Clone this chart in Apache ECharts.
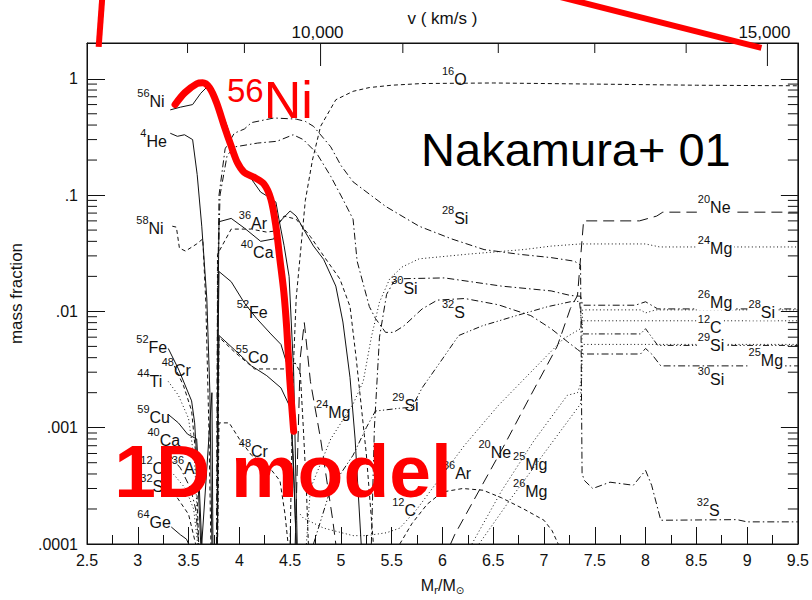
<!DOCTYPE html>
<html>
<head>
<meta charset="utf-8">
<script src="https://cdn.jsdelivr.net/npm/echarts@6/dist/echarts.min.js"></script>
<style>
  html, body { margin: 0; padding: 0; background: #fff; }
  #chart { width: 812px; height: 600px; }
</style>
</head>
<body>
<div id="chart"></div>
<script>
// ---- abundance profiles: [enclosed mass (Msun), mass fraction] ----
const ni56 = [[3.32,0.54],[3.42,0.57],[3.54,0.6],[3.62,0.75],[3.71,0.9],[3.76,0.76],[3.82,0.54],[3.88,0.39],[3.92,0.3],[3.98,0.2],[4.05,0.16],[4.12,0.137],[4.21,0.106],[4.3,0.095],[4.36,0.087],[4.39,0.062],[4.44,0.037],[4.49,0.02],[4.535,0.003],[4.565,0.00016],[4.57,0.0001]];
const he4 = [[3.32,0.34],[3.39,0.32],[3.46,0.33],[3.54,0.3],[3.585,0.15],[3.63,0.054],[3.68,0.0128],[3.71,0.002],[3.73,0.0001]];
const ni58 = [[3.34,0.054],[3.38,0.053],[3.41,0.035],[3.47,0.033],[3.58,0.038],[3.64,0.042],[3.67,0.012],[3.7,0.001],[3.72,0.0001]];
const fe52Inner = [[3.3,0.0048],[3.4,0.0032],[3.53,0.0017],[3.56,0.0011],[3.59,0.0004],[3.62,0.0001]];
const cr48Inner = [[3.36,0.0034],[3.45,0.0023],[3.53,0.0014],[3.57,0.0006],[3.6,0.0001]];
const ti44 = [[3.3,0.0025],[3.4,0.0019],[3.5,0.0012],[3.56,0.0005],[3.6,0.0001]];
const cu59 = [[3.3,0.0013],[3.4,0.0011],[3.49,0.00088],[3.58,0.0008],[3.6,0.0004],[3.63,0.0001]];
const ca40Inner = [[3.3,0.0006],[3.42,0.00045],[3.52,0.0003],[3.57,0.0002],[3.6,0.0001]];
const c12Inner = [[3.35,0.0004],[3.47,0.0003],[3.55,0.0002],[3.59,0.0001]];
const s32Inner = [[3.35,0.00028],[3.5,0.00018],[3.57,0.0001]];
const ge64 = [[3.33,0.00014],[3.42,0.00012],[3.48,0.00011],[3.5,0.0001]];
const ar36Inner = [[3.63,0.0001],[3.73,0.002],[3.74,0.0001]];

const ar36 = [[3.785,0.0001],[3.79,0.01],[3.8,0.059],[3.92,0.063],[4.05,0.052],[4.21,0.04],[4.34,0.042],[4.39,0.058],[4.5,0.073],[4.56,0.066],[4.65,0.048],[4.73,0.0365],[4.83,0.028],[4.95,0.0165],[5.02,0.0081],[5.09,0.0027],[5.14,0.0008],[5.2,0.0001]];
const ca40 = [[3.78,0.0001],[3.785,0.031],[3.92,0.051],[4.12,0.051],[4.27,0.048],[4.34,0.049],[4.44,0.066],[4.56,0.062],[4.7,0.044],[4.83,0.03],[4.99,0.019],[5.09,0.011],[5.15,0.004],[5.25,0.0006],[5.32,0.0001]];
const fe52 = [[3.785,0.0001],[3.79,0.005],[3.8,0.022],[3.92,0.018],[4.05,0.0118],[4.17,0.0087],[4.31,0.0064],[4.41,0.0052],[4.47,0.0035],[4.51,0.0012],[4.54,0.0003],[4.56,0.0001]];
const co55 = [[3.785,0.0001],[3.79,0.002],[3.8,0.0062],[3.95,0.0047],[4.12,0.0034],[4.27,0.0028],[4.41,0.0022],[4.5,0.0015],[4.53,0.0006],[4.56,0.0001]];
const ni57 = [[3.785,0.0001],[3.8,0.006],[3.95,0.0045],[4.15,0.0032],[4.44,0.0032],[4.55,0.0036],[4.6,0.003],[4.63,0.001],[4.66,0.0003],[4.68,0.0001]];
const cr48 = [[3.785,0.0001],[3.8,0.0011],[3.9,0.0011],[4.0,0.0008],[4.12,0.00058],[4.3,0.00045],[4.4,0.00035],[4.45,0.00018],[4.48,0.0001]];
const si28 = [[3.775,0.0001],[3.785,0.01],[3.8,0.1],[3.86,0.25],[3.95,0.34],[4.05,0.37],[4.12,0.42],[4.34,0.46],[4.56,0.45],[4.65,0.43],[4.73,0.39],[4.9,0.26],[5.0,0.18],[5.12,0.13],[5.44,0.08],[5.77,0.054],[6.09,0.042],[6.41,0.034],[6.75,0.031],[7.07,0.029],[7.3,0.027],[7.36,0.025],[7.375,0.0004],[7.4,0.00035],[7.48,0.0003],[7.65,0.00034],[7.88,0.00032],[8.0,0.00043],[8.06,0.00032],[8.15,0.00016],[8.9,0.000162],[9.0,0.000155],[9.5,0.000155]];
const s32 = [[3.78,0.0001],[3.79,0.02],[3.81,0.1],[3.88,0.22],[3.96,0.26],[4.18,0.28],[4.37,0.29],[4.53,0.33],[4.63,0.3],[4.76,0.23],[4.9,0.145],[5.02,0.092],[5.12,0.062],[5.16,0.027],[5.28,0.011],[5.34,0.0087],[5.44,0.0066],[5.52,0.0066],[5.62,0.0075],[5.8,0.0105],[5.95,0.0125],[6.22,0.0129],[6.55,0.0114],[6.87,0.0092],[7.07,0.0071],[7.23,0.0055],[7.33,0.0047],[7.39,0.0043],[7.95,0.0043],[8.0,0.0048],[8.06,0.0043],[8.15,0.0034],[9.5,0.0034]];
const si30 = [[5.3,0.0001],[5.33,0.001],[5.38,0.006],[5.45,0.014],[5.52,0.018],[5.61,0.0191],[6.02,0.0194],[6.58,0.0165],[7.07,0.015],[7.26,0.0137],[7.36,0.0135],[7.38,0.0113],[7.9,0.0113],[8.0,0.0121],[8.12,0.0105],[9.5,0.0105]];
const si29 = [[4.73,0.0001],[4.9,0.0003],[5.12,0.00058],[5.25,0.001],[5.34,0.00139],[5.58,0.00147],[5.7,0.0015],[5.8,0.0022],[6.0,0.0039],[6.16,0.0062],[6.39,0.0075],[6.71,0.0091],[7.04,0.011],[7.26,0.0121],[7.35,0.0122],[7.38,0.0064],[7.95,0.0064],[8.0,0.0071],[8.12,0.0051],[9.5,0.0051]];
const o16 = [[4.5,0.0001],[4.53,0.003],[4.56,0.013],[4.65,0.09],[4.72,0.2],[4.8,0.39],[4.95,0.66],[5.12,0.78],[5.28,0.84],[5.5,0.88],[5.8,0.91],[6.5,0.92],[7.5,0.9],[8.5,0.88],[9.5,0.87]];
const ne20 = [[6.08,0.0001],[6.12,0.00012],[6.61,0.00071],[6.87,0.0019],[7.13,0.005],[7.26,0.0106],[7.33,0.0137],[7.39,0.06],[7.94,0.06],[8.11,0.066],[8.17,0.0713],[9.5,0.0713]];
const ne20Inner = [[4.55,0.0001],[4.6,0.004],[4.64,0.008],[4.7,0.0025],[4.8,0.0008],[4.92,0.00016],[4.95,0.0001]];
const mg24 = [[4.66,0.0001],[4.7,0.0003],[4.9,0.0008],[5.12,0.0016],[5.22,0.0025],[5.3,0.006],[5.38,0.012],[5.48,0.019],[5.6,0.024],[5.77,0.0283],[6.26,0.0311],[6.8,0.034],[7.07,0.0364],[7.36,0.038],[8.0,0.038],[8.14,0.0358],[9.5,0.0358]];
const c12 = [[4.6,0.00018],[4.63,0.000167],[4.83,0.000137],[5.12,0.000118],[5.25,0.000118],[5.45,0.000125],[5.58,0.000137],[5.75,0.0002],[5.9,0.0003],[6.22,0.00071],[6.55,0.00155],[6.87,0.003],[7.19,0.0058],[7.36,0.0071],[7.38,0.0083],[9.5,0.0083]];
const ar36Outer = [[5.58,0.0001],[5.7,0.00015],[5.85,0.00022],[6.0,0.00028],[6.2,0.0003],[6.4,0.00029],[6.58,0.00025],[6.8,0.0002],[7.0,0.00016],[7.08,0.00013],[7.14,0.0001]];
const mg25 = [[6.29,0.0001],[6.58,0.000284],[6.9,0.00077],[7.23,0.0019],[7.33,0.002],[7.37,0.0025],[7.38,0.0052],[9.5,0.0052]];
const mg26 = [[6.36,0.0001],[6.68,0.00025],[7.0,0.0006],[7.36,0.0016],[7.38,0.0103],[7.95,0.0103],[8.0,0.0097],[8.1,0.0103],[9.5,0.0103]];

// 1D model 56Ni profile
const model56Ni = [[3.367,0.6],[3.464,0.76],[3.581,0.906],[3.639,0.924],[3.707,0.837],[3.776,0.623],[3.853,0.388],[3.921,0.262],[3.98,0.191],[4.048,0.157],[4.146,0.142],[4.243,0.124],[4.311,0.092],[4.36,0.054],[4.399,0.0282],[4.438,0.0147],[4.467,0.0071],[4.496,0.00265],[4.535,0.00093]];
// connector lines leaving the frame
const connectorLeft = [[2.615,1.88],[2.652,5.24]];
const connectorRight = [[7.086,5.24],[9.141,1.843]];

// isotope labels: [mass number, element, mass, fraction]
const isotopeLabels = [
  ['56','Ni',3.0,0.64],['4','He',3.03,0.29],['58','Ni',2.99,0.052],['52','Fe',2.99,0.0049],
  ['48','Cr',3.24,0.0031],['44','Ti',3.0,0.0025],['59','Cu',3.0,0.00122],['40','Ca',3.1,0.00078],
  ['12','C',3.03,0.00045],['36','Ar',3.34,0.00045],['32','S',3.03,0.00031],['64','Ge',3.0,0.000152],
  ['36','Ar',4.0,0.0565],['40','Ca',4.02,0.0318],['52','Fe',3.98,0.0098],['55','Co',3.97,0.004],
  ['48','Cr',4.0,0.00062],['24','Mg',4.76,0.00135],['16','O',6.0,0.99],['28','Si',6.0,0.063],
  ['30','Si',5.5,0.0158],['32','S',6.0,0.0098],['29','Si',5.51,0.00155],['20','Ne',6.36,0.00061],
  ['25','Mg',6.7,0.00048],['36','Ar',6.01,0.0004],['26','Mg',6.7,0.00028],['12','C',5.51,0.000194],
  ['20','Ne',8.51,0.0776],['24','Mg',8.51,0.0347],['26','Mg',8.51,0.0119],['28','Si',9.01,0.0098],
  ['12','C',8.51,0.0072],['29','Si',8.51,0.0051],['25','Mg',9.01,0.0038],['30','Si',8.51,0.0026],
  ['32','S',8.5,0.000194]
];

// axis tick labels
const massTickLabels = ['2.5','3','3.5','4','4.5','5','5.5','6','6.5','7','7.5','8','8.5','9','9.5'];
const fractionTickLabels = ['.0001','.001','.01','.1','1'];
const velocityTicks = [8000,9000,10000,11000,12000,13000,14000,15000];
const velocityTickMass = [3.49,4.05,4.80,5.61,6.55,7.50,8.40,9.20];
const velocityTickLabels = {10000:'10,000', 15000:'15,000'};

// ---- chart ----
const X_MIN = 2.5, X_MAX = 9.5, Y_MIN = 0.0001, Y_MAX = 2.03;
const OUTER_ZONE = 8.4;   // labels beyond this mass sit on the flat outer profiles
const FONT = '"Liberation Sans", Arial, Helvetica, sans-serif';
const INK = '#111';
const RED = '#ff0000';
const DASH = {
  solid: 'solid',
  dashed: [4, 3],
  longDash: [11, 6],
  dotted: [1, 2.6],
  dashDot: [7, 3, 1.5, 3],
  dashDotDot: [6, 2.5, 1.2, 2.5, 1.2, 2.5]
};

const profiles = [
  [ni56,'solid'],[he4,'solid'],[ni58,'dashed'],[fe52Inner,'solid'],[cr48Inner,'dashed'],[ti44,'dotted'],
  [cu59,'solid'],[ca40Inner,'dashDot'],[c12Inner,'dotted'],[s32Inner,'dashed'],[ge64,'solid'],[ar36Inner,'solid'],
  [ar36,'solid'],[ca40,'dashed'],[fe52,'solid'],[co55,'solid'],[ni57,'dashed'],[cr48,'dashed'],
  [si28,'dashDot'],[s32,'dashDot'],[si30,'dashDot'],[si29,'dashDotDot'],[o16,'dashed'],[ne20,'longDash'],
  [ne20Inner,'longDash'],[mg24,'dotted'],[c12,'dotted'],[ar36Outer,'dashed'],[mg25,'dotted'],[mg26,'dotted']
];

const series = profiles.map(([data, style]) => ({
  type: 'line', data, symbol: 'none', silent: true, clip: true, z: 2,
  lineStyle: { color: INK, width: 1, type: DASH[style] }
}));

// minor ticks on both vertical frame edges (2..9 per decade)
const minorFractions = [];
for (let e = -4; e <= -1; e++) for (let k = 2; k <= 9; k++) minorFractions.push(k * Math.pow(10, e));
series.push({
  type: 'custom', silent: true, z: 3,
  data: minorFractions.map(v => [X_MIN, v]),
  renderItem: (params, api) => {
    const pl = api.coord([X_MIN, api.value(1)]);
    const pr = api.coord([X_MAX, api.value(1)]);
    return { type: 'group', children: [
      { type: 'line', shape: { x1: pl[0], y1: pl[1], x2: pl[0] + 10, y2: pl[1] }, style: { stroke: INK, lineWidth: 1 } },
      { type: 'line', shape: { x1: pr[0] - 10, y1: pr[1], x2: pr[0], y2: pr[1] }, style: { stroke: INK, lineWidth: 1 } }
    ]};
  }
});

// velocity scale along the top edge
series.push({
  type: 'custom', silent: true, z: 3,
  data: velocityTickMass.map((m, i) => [m, Y_MAX, velocityTicks[i]]),
  renderItem: (params, api) => {
    const p = api.coord([api.value(0), Y_MAX]);
    const v = api.value(2);
    const label = velocityTickLabels[v];
    const children = [{ type: 'line', shape: { x1: p[0], y1: p[1], x2: p[0], y2: p[1] + (label ? 23 : 10) }, style: { stroke: INK, lineWidth: 1 } }];
    if (label) children.push({ type: 'text', style: { text: label, x: p[0] - 3, y: p[1] - 11, align: 'center', verticalAlign: 'middle', font: '17px ' + FONT, fill: INK } });
    return { type: 'group', children };
  }
});

// isotope names (those on the flat outer profiles blank out the line beneath them)
series.push({
  type: 'scatter', silent: true, z: 4, symbolSize: 1, itemStyle: { color: 'rgba(0,0,0,0)', opacity: 1 },
  data: isotopeLabels.map(d => {
    const item = { value: [d[2], d[3]], A: d[0], el: d[1] };
    if (d[2] > OUTER_ZONE) item.label = { backgroundColor: '#fff', padding: [0, 2, 0, 1] };
    return item;
  }),
  label: {
    show: true, position: [0, 0], align: 'left', verticalAlign: 'middle', color: INK, opacity: 1,
    formatter: p => '{s|' + p.data.A + '}{e|' + p.data.el + '}',
    rich: {
      s: { fontFamily: FONT, fontSize: 11, lineHeight: 11, padding: [0, 0, 11, 0], verticalAlign: 'bottom', color: INK },
      e: { fontFamily: FONT, fontSize: 16, lineHeight: 17, verticalAlign: 'bottom', color: INK }
    }
  }
});

// 1D model curve and annotations
series.push({
  type: 'line', data: model56Ni, symbol: 'none', smooth: 0.3, silent: true, z: 10, clip: false,
  lineStyle: { color: RED, width: 7, cap: 'round', join: 'round' }
});
[connectorLeft, connectorRight].forEach(d => series.push({
  type: 'line', data: d, symbol: 'none', silent: true, z: 10, clip: false,
  lineStyle: { color: RED, width: 6, cap: 'butt' }
}));
series.push({
  type: 'scatter', silent: true, z: 11, symbolSize: 1, itemStyle: { color: 'rgba(0,0,0,0)', opacity: 1 },
  data: [
    { value: [3.883, 0.648], kind: 'ni' },
    { value: [5.795, 0.244], kind: 'ref' },
    { value: [2.773, 0.000423], kind: 'model' }
  ],
  label: {
    show: true, position: [0, 0], align: 'left', verticalAlign: 'middle', color: RED, opacity: 1,
    formatter: p => p.data.kind === 'ni' ? '{rs|56}{re|Ni}' : (p.data.kind === 'ref' ? '{ref|Nakamura+ 01}' : '{model|1D model}'),
    rich: {
      rs: { fontFamily: FONT, fontSize: 33, lineHeight: 33, padding: [0, 0, 19, 0], verticalAlign: 'bottom', color: RED },
      re: { fontFamily: FONT, fontSize: 52, lineHeight: 52, verticalAlign: 'bottom', color: RED },
      ref: { fontFamily: FONT, fontSize: 47, lineHeight: 50, color: '#000' },
      model: { fontFamily: FONT, fontSize: 75, lineHeight: 78, fontWeight: 'bold', color: RED }
    }
  }
});

const fractionLabel = v => {
  const e = Math.log10(v), r = Math.round(e);
  if (Math.abs(e - r) > 1e-6 || r < -4 || r > 0) return '';
  return fractionTickLabels[r + 4];
};

const chart = echarts.init(document.getElementById('chart'), null, { renderer: 'svg' });
chart.setOption({
  animation: false,
  backgroundColor: '#fff',
  textStyle: { fontFamily: FONT },
  grid: { left: 81, right: 12, top: 43, bottom: 54, show: true, borderColor: INK, borderWidth: 1, backgroundColor: 'transparent' },
  xAxis: [{
    type: 'value', min: X_MIN, max: X_MAX, interval: 0.5, position: 'bottom',
    axisLine: { show: true, lineStyle: { color: INK } },
    axisTick: { show: true, inside: true, length: 17, lineStyle: { color: INK } },
    minorTick: { show: true, splitNumber: 2, length: 9, lineStyle: { color: INK } },
    axisLabel: { fontSize: 16, color: INK, margin: 8, fontFamily: FONT,
      formatter: v => massTickLabels[Math.round((v - X_MIN) / 0.5)] },
    splitLine: { show: false },
    name: '{m|M}{sb|r}{m|/M}{sb|⊙}', nameLocation: 'middle', nameGap: 41,
    nameTextStyle: { verticalAlign: 'middle', rich: {
      m: { fontFamily: FONT, fontSize: 16, lineHeight: 16, verticalAlign: 'top', color: INK },
      sb: { fontFamily: '"DejaVu Sans", ' + FONT, fontSize: 10, lineHeight: 10, padding: [8, 0, 0, 0], verticalAlign: 'top', color: INK }
    } }
  }, {
    type: 'value', min: X_MIN, max: X_MAX, position: 'top',
    axisLine: { show: true, lineStyle: { color: INK } }, axisTick: { show: false }, axisLabel: { show: false }, splitLine: { show: false },
    name: 'v ( km/s )', nameLocation: 'middle', nameGap: 25,
    nameTextStyle: { fontFamily: FONT, fontSize: 17, color: INK, verticalAlign: 'middle' }
  }],
  yAxis: [{
    type: 'log', logBase: 10, min: Y_MIN, max: Y_MAX, position: 'left',
    axisLine: { show: true, lineStyle: { color: INK } },
    axisTick: { show: true, inside: true, length: 18, lineStyle: { color: INK } },
    axisLabel: { fontSize: 16, color: INK, margin: 9, fontFamily: FONT, formatter: fractionLabel, showMaxLabel: false },
    splitLine: { show: false },
    name: 'mass fraction', nameLocation: 'middle', nameGap: 62, nameRotate: 90,
    nameTextStyle: { fontFamily: FONT, fontSize: 17, color: INK }
  }, {
    type: 'log', logBase: 10, min: Y_MIN, max: Y_MAX, position: 'right',
    axisLine: { show: true, lineStyle: { color: INK } },
    axisTick: { show: true, inside: true, length: 17, lineStyle: { color: INK } },
    axisLabel: { show: false }, splitLine: { show: false }
  }],
  series
});
</script>
</body>
</html>
